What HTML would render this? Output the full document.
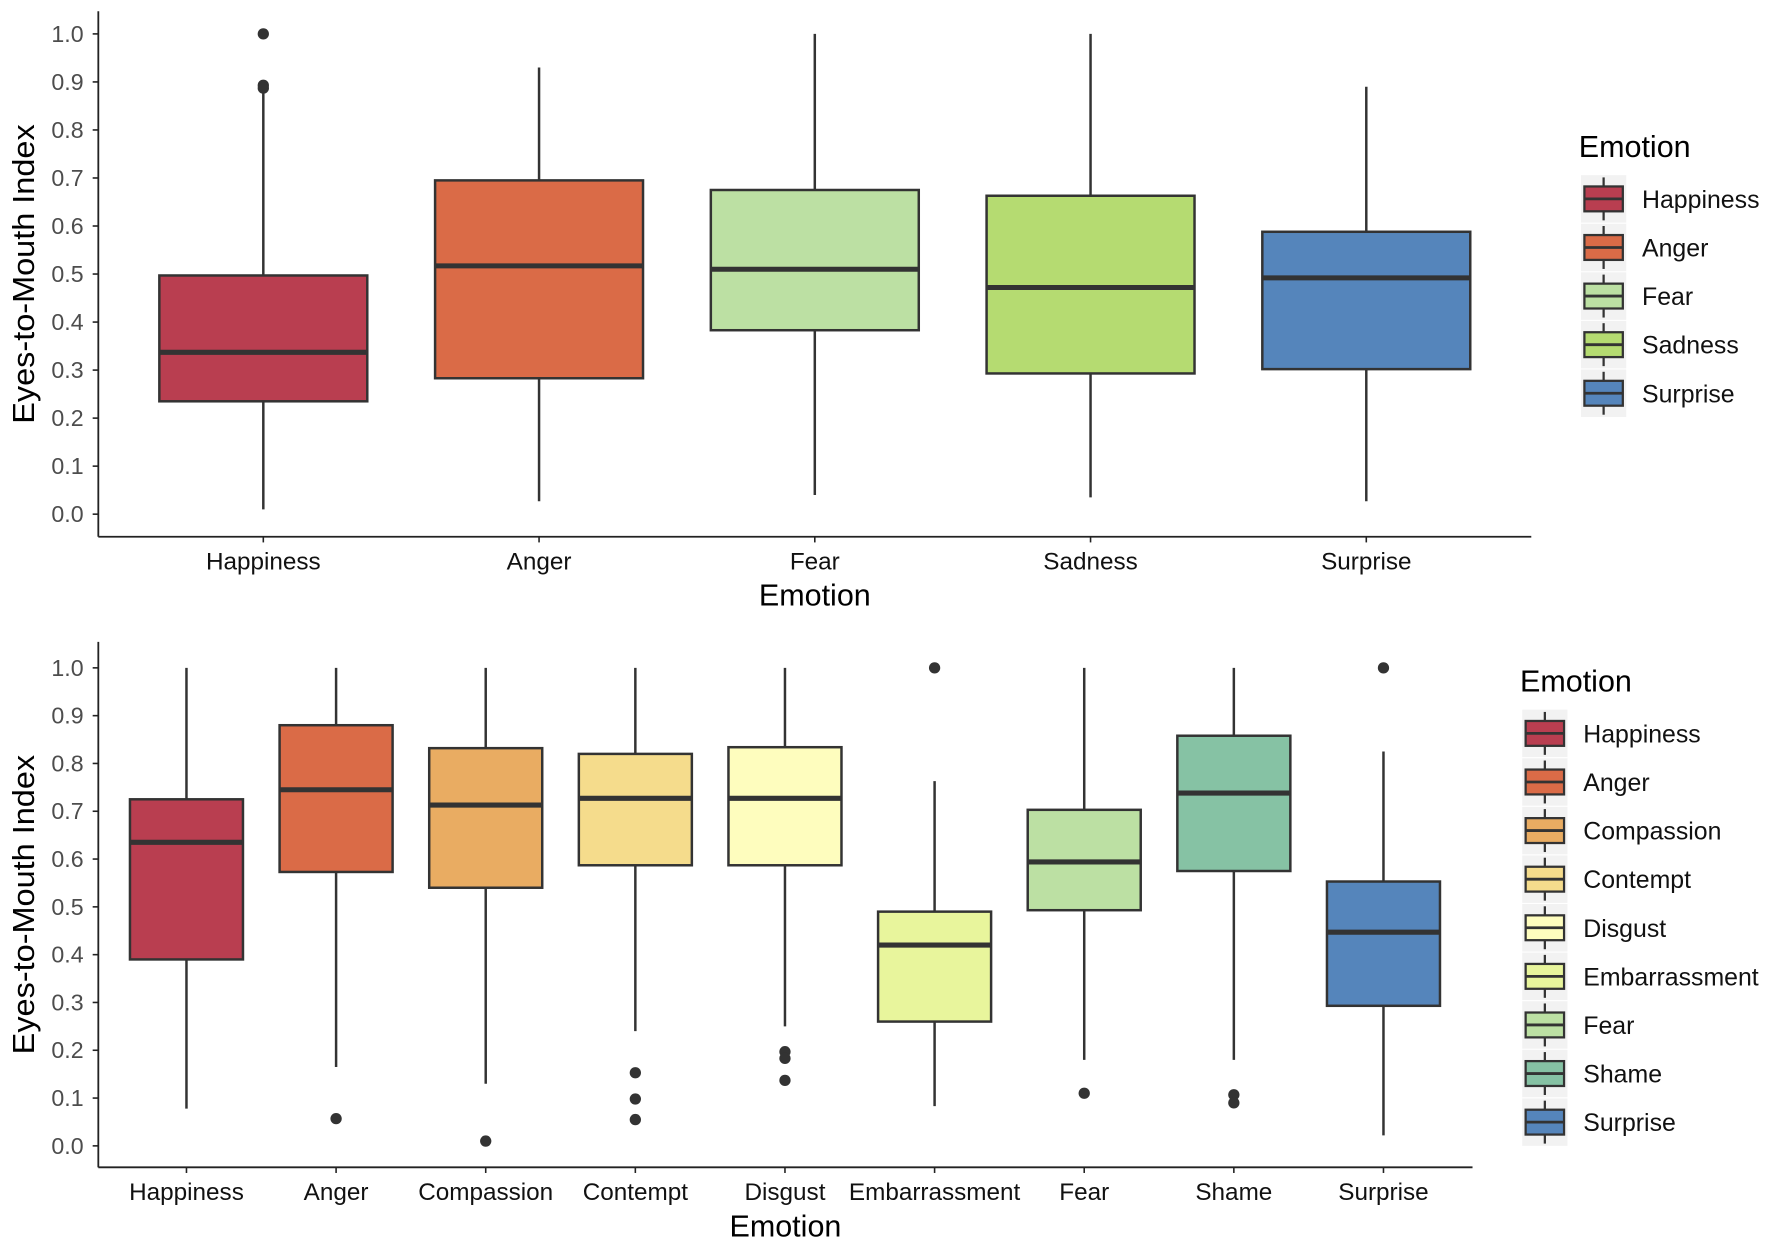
<!DOCTYPE html>
<html><head><meta charset="utf-8"><style>html,body{margin:0;padding:0;background:#fff}svg{display:block}</style></head>
<body>
<svg id="s" xmlns="http://www.w3.org/2000/svg" width="1772" height="1247" viewBox="0 0 1568 1103.5" preserveAspectRatio="none" font-family="Liberation Sans, sans-serif"></svg>
<script>
const C={Happiness:"#B93E50",Anger:"#DA6B47",Compassion:"#E9AC62",Contempt:"#F5DC8C",Disgust:"#FEFDBE",Embarrassment:"#E8F59C",Fear:"#BCE0A3",Sadness:"#B5DB71",Shame:"#86C2A4",Surprise:"#5585BB"};
let h="";
function panel(o){
  const y=v=>o.y0-v*o.k;
  h+=`<line x1="${o.ax}" y1="${o.top}" x2="${o.ax}" y2="${o.bot}" stroke="#222" stroke-width="1.6"/>`;
  h+=`<line x1="${o.ax}" y1="${o.bot}" x2="${o.right}" y2="${o.bot}" stroke="#222" stroke-width="1.6"/>`;
  for(let i=0;i<=10;i++){const v=i/10,yy=y(v);
    h+=`<line x1="${o.ax-5}" y1="${yy}" x2="${o.ax}" y2="${yy}" stroke="#222" stroke-width="1.4"/>`;
    h+=`<text x="${o.ax-13}" y="${yy+7}" font-size="20.5" fill="#4d4d4d" text-anchor="end">${v.toFixed(1)}</text>`;}
  h+=`<text transform="translate(30,${(o.top+o.bot)/2}) rotate(-90)" font-size="27" textLength="265" lengthAdjust="spacingAndGlyphs" fill="#000" text-anchor="middle">Eyes-to-Mouth Index</text>`;
  o.d.forEach((d,i)=>{const cx=o.x0+i*o.dx,w=o.hw;
    h+=`<line x1="${cx}" y1="${o.bot}" x2="${cx}" y2="${o.bot+5}" stroke="#222" stroke-width="1.4"/>`;
    h+=`<text x="${cx}" y="${o.bot+29}" font-size="21.5" fill="#111" text-anchor="middle">${d[0]}</text>`;
    h+=`<line x1="${cx}" y1="${y(d[4])}" x2="${cx}" y2="${y(d[5])}" stroke="#333" stroke-width="2.2"/>`;
    h+=`<rect x="${cx-w}" y="${y(d[3])}" width="${2*w}" height="${y(d[1])-y(d[3])}" fill="${C[d[0]]}" stroke="#333" stroke-width="2.2"/>`;
    h+=`<line x1="${cx-w}" y1="${y(d[2])}" x2="${cx+w}" y2="${y(d[2])}" stroke="#333" stroke-width="4.5"/>`;
    (d[6]||[]).forEach(v=>h+=`<circle cx="${cx}" cy="${y(v)}" r="5" fill="#333"/>`);
  });
  h+=`<text x="${o.xt}" y="${o.bot+61}" font-size="27" fill="#000" text-anchor="middle">Emotion</text>`;
  h+=`<text x="${o.lx-2}" y="${o.ly-37}" font-size="27" fill="#000">Emotion</text>`;
  o.d.forEach((d,i)=>{const yy=o.ly+i*43;
    h+=`<rect x="${o.lx}" y="${yy-21}" width="40" height="42" fill="#f2f2f2"/>`;
    h+=`<line x1="${o.lx+20}" y1="${yy-19}" x2="${o.lx+20}" y2="${yy+19}" stroke="#333" stroke-width="2"/>`;
    h+=`<rect x="${o.lx+3}" y="${yy-11}" width="34" height="22" fill="${C[d[0]]}" stroke="#333" stroke-width="2"/>`;
    h+=`<line x1="${o.lx+3}" y1="${yy}" x2="${o.lx+37}" y2="${yy}" stroke="#333" stroke-width="2.5"/>`;
    h+=`<text x="${o.lx+54}" y="${yy+8}" font-size="22" fill="#111">${d[0]}</text>`;});
}
panel({ax:87,top:10,bot:475,right:1355,y0:455,k:425,x0:233,dx:244,hw:92,xt:721,lx:1399,ly:176,d:[
 ["Happiness",.235,.337,.497,.01,.88,[1.0,.893,.887]],
 ["Anger",.283,.517,.695,.027,.93],
 ["Fear",.383,.51,.675,.04,1.0],
 ["Sadness",.293,.472,.663,.035,1.0],
 ["Surprise",.302,.492,.588,.027,.89]]});
panel({ax:87,top:568,bot:1033,right:1303,y0:1014,k:423,x0:165,dx:132.4,hw:50,xt:695,lx:1347,ly:649,d:[
 ["Happiness",.39,.635,.725,.078,1.0],
 ["Anger",.573,.745,.88,.165,1.0,[.057]],
 ["Compassion",.54,.713,.832,.13,1.0,[.01]],
 ["Contempt",.587,.727,.82,.24,1.0,[.153,.098,.055]],
 ["Disgust",.587,.727,.834,.25,1.0,[.197,.183,.137]],
 ["Embarrassment",.26,.42,.49,.083,.763,[1.0]],
 ["Fear",.493,.594,.703,.18,1.0,[.11]],
 ["Shame",.575,.738,.858,.18,1.0,[.107,.09]],
 ["Surprise",.293,.447,.553,.022,.825,[1.0]]]});
document.getElementById("s").innerHTML=h;
</script>
</body></html>
